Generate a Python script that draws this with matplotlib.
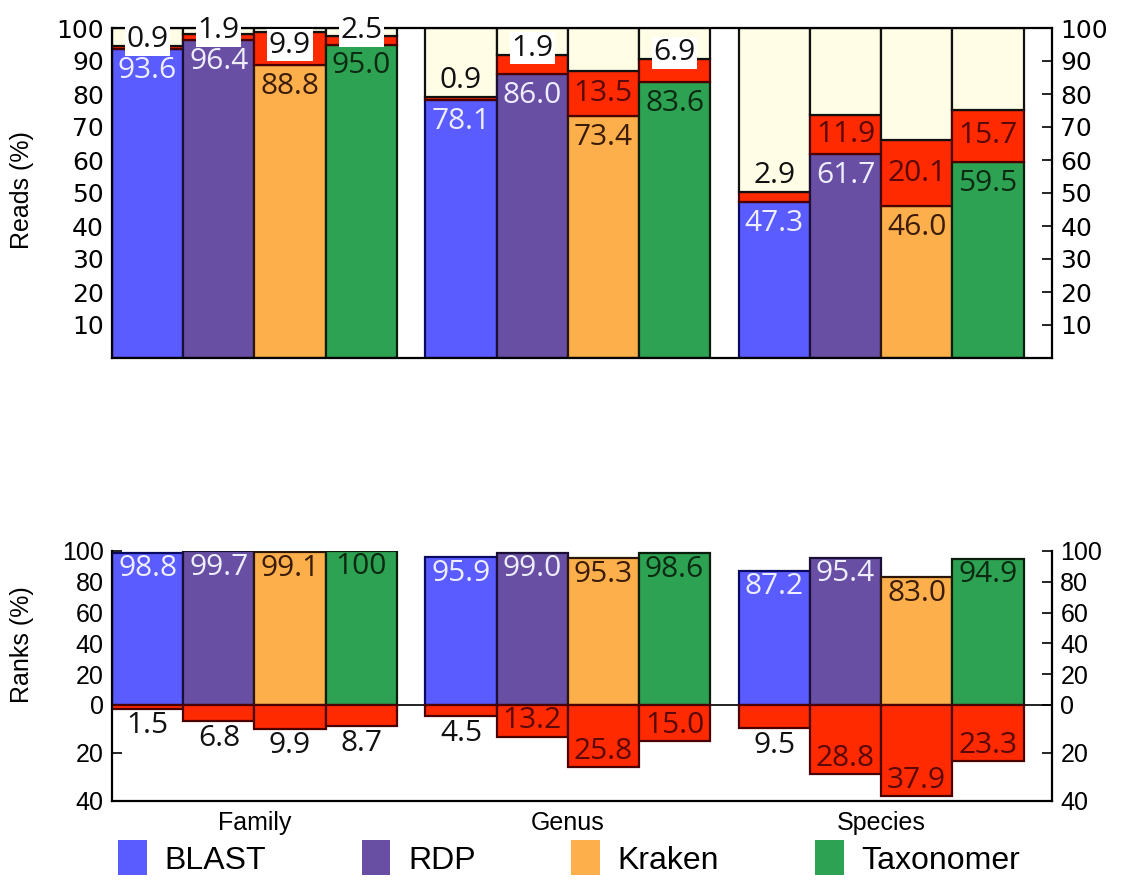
import numpy as np
import matplotlib
matplotlib.use("Agg")
import matplotlib.pyplot as plt
from matplotlib.patches import Patch

# ---------------- data ----------------
ranks = ["Family", "Genus", "Species"]
methods = ["BLAST", "RDP", "Kraken", "Taxonomer"]

# Reads (%) panel
reads_correct = [[93.6, 96.4, 88.8, 95.0],
                 [78.1, 86.0, 73.4, 83.6],
                 [47.3, 61.7, 46.0, 59.5]]
reads_incorrect = [[0.9, 1.9, 9.9, 2.5],
                   [0.9, 5.8, 13.5, 6.9],
                   [2.9, 11.9, 20.1, 15.7]]
reads_incorrect_text = [["0.9", "1.9", "9.9", "2.5"],
                        ["0.9", "1.9", "13.5", "6.9"],
                        ["2.9", "11.9", "20.1", "15.7"]]

# Ranks (%) panel
ranks_correct = [[98.8, 99.7, 99.1, 100],
                 [95.9, 99.0, 95.3, 98.6],
                 [87.2, 95.4, 83.0, 94.9]]
ranks_incorrect = [[1.5, 6.8, 9.9, 8.7],
                   [4.5, 13.2, 25.8, 15.0],
                   [9.5, 28.8, 37.9, 23.3]]

reads_ticks = [10, 20, 30, 40, 50, 60, 70, 80, 90, 100]
ranks_ticks = [-40, -20, 0, 20, 40, 60, 80, 100]

# ---------------- style ----------------
fill = ["#5B5CFF", "#684FA3", "#FDAF4C", "#2DA252"]
edge = ["#0A0A60", "#1C0F36", "#2A1606", "#0A1E0E"]
txt = ["#EEEEFF", "#EEEEFF", "#3A1C08", "#0C2A12"]
red, red_edge, red_txt = "#FF2A00", "#4A0000", "#5A0808"
cream = "#FFFDE6"

W, H = 1121, 890
fig = plt.figure(figsize=(W / 100, H / 100), dpi=100)
ax1 = fig.add_axes([112 / W, 1 - 358 / H, 940 / W, 330 / H])
ax2 = fig.add_axes([112 / W, 1 - 801 / H, 940 / W, 250 / H])

gap = 0.4
nm = len(methods)
xlim = (0, len(ranks) * (nm + gap))
lw = 1.6
lab_font = ["Open Sans", "DejaVu Sans"]
lab_size = 21.5

def xpos(g, m):
    return g * (nm + gap) + m

# ---------------- top panel ----------------
for g in range(len(ranks)):
    for m in range(nm):
        x = xpos(g, m)
        c = reads_correct[g][m]
        i = reads_incorrect[g][m]
        ax1.bar(x, c, width=1, align="edge", color=fill[m], edgecolor=edge[m], lw=lw, zorder=2)
        ax1.bar(x, i, bottom=c, width=1, align="edge", color=red, edgecolor=red_edge, lw=lw, zorder=2)
        ax1.bar(x, 100 - c - i, bottom=c + i, width=1, align="edge", color=cream,
                edgecolor="#111111", lw=lw, zorder=2)
        ax1.annotate(f"{c:.1f}", (x + 0.5, c), xytext=(0, -5), textcoords="offset points",
                     ha="center", va="top", color=txt[m], fontsize=lab_size, family=lab_font, zorder=5)
        s = reads_incorrect_text[g][m]
        top = c + i
        if i >= 11:
            ax1.annotate(s, (x + 0.5, c + i / 2), ha="center", va="center", color=red_txt,
                         fontsize=lab_size, family=lab_font, zorder=5)
        elif i >= 9:
            ax1.annotate(s, (x + 0.5, c + i / 2 + 1), ha="center", va="center", color="#111111",
                         fontsize=lab_size, family=lab_font, zorder=5,
                         bbox=dict(boxstyle="square,pad=0.05", fc="white", ec="none"))
        elif top > 85:
            ax1.annotate(s, (x + 0.5, min(top + 2, 99.2)), ha="center", va="center", color="#111111",
                         fontsize=lab_size, family=lab_font, zorder=5, annotation_clip=False,
                         bbox=dict(boxstyle="square,pad=0.05", fc="white", ec="none"))
        else:
            ax1.annotate(s, (x + 0.5, top), xytext=(0, 2), textcoords="offset points",
                         ha="center", va="bottom", color="#111111",
                         fontsize=lab_size, family=lab_font, zorder=5)

ax1.set_xlim(*xlim)
ax1.set_ylim(0, 100)
ax1.set_yticks(reads_ticks)
ax1.set_xticks([])
ax1.tick_params(axis="y", direction="in", left=True, right=True, labelleft=True, labelright=True,
                labelsize=18, length=7, width=1.2, pad=6)
for sp in ax1.spines.values():
    sp.set_linewidth(1.6)
    sp.set_zorder(3)

# ---------------- bottom panel ----------------
k = 1.56

def fwd(y):
    y = np.asarray(y, dtype=float)
    return np.where(y < 0, y * k, y)

def inv(y):
    y = np.asarray(y, dtype=float)
    return np.where(y < 0, y / k, y)

ax2.set_yscale("function", functions=(fwd, inv))
ax2.axhline(0, color="#222222", lw=1.4, zorder=1)
for g in range(len(ranks)):
    for m in range(nm):
        x = xpos(g, m)
        c = ranks_correct[g][m]
        i = ranks_incorrect[g][m]
        ax2.bar(x, c, width=1, align="edge", color=fill[m], edgecolor=edge[m], lw=lw, zorder=2)
        ax2.bar(x, -i, width=1, align="edge", color=red, edgecolor=red_edge, lw=lw, zorder=2)
        ctext = f"{c:g}" if c == 100 else f"{c:.1f}"
        ax2.annotate(ctext, (x + 0.5, c), xytext=(0, -1), textcoords="offset points",
                     ha="center", va="top", color=txt[m], fontsize=lab_size, family=lab_font, zorder=5)
        if i >= 12:
            ax2.annotate(f"{i:.1f}", (x + 0.5, -i), xytext=(0, 1), textcoords="offset points",
                         ha="center", va="bottom", color=red_txt, fontsize=lab_size,
                         family=lab_font, zorder=5)
        else:
            ax2.annotate(f"{i:.1f}", (x + 0.5, -i), xytext=(0, -2), textcoords="offset points",
                         ha="center", va="top", color="#111111", fontsize=lab_size,
                         family=lab_font, zorder=5)

ax2.set_xlim(*xlim)
ax2.set_ylim(-40, 100)
ax2.set_yticks(ranks_ticks)
ax2.set_yticklabels([f"{abs(t)}" for t in ranks_ticks])
ax2.yaxis.set_minor_locator(matplotlib.ticker.NullLocator())
ax2.set_xticks([g * (nm + gap) + nm / 2 for g in range(len(ranks))])
ax2.set_xticklabels(ranks, fontsize=18, family="Liberation Sans")
ax2.tick_params(axis="x", length=0, pad=7)
ax2.tick_params(axis="y", direction="in", left=True, right=True, labelleft=True, labelright=True,
                labelsize=18, length=7, width=1.2, pad=6)
for t in ax2.yaxis.get_major_ticks():
    t.label1.set_family("Liberation Sans")
    t.label2.set_family("Liberation Sans")
ax2.spines["top"].set_visible(False)
for sp in ax2.spines.values():
    sp.set_linewidth(1.6)

# ---------------- labels & legend ----------------
fig.text(22 / W, 1 - 190 / H, "Reads (%)", rotation=90, ha="center", va="center",
         fontsize=18, family="Liberation Sans")
fig.text(22 / W, 1 - 645 / H, "Ranks (%)", rotation=90, ha="center", va="center",
         fontsize=18, family="Liberation Sans")

handles = [Patch(facecolor=fill[m], edgecolor="none") for m in range(nm)]
fig.legend(handles, methods, loc="center", bbox_to_anchor=(569 / W, 1 - 858 / H), ncol=4,
           frameon=False, prop={"family": "Liberation Sans", "size": 23},
           handlelength=0.9, handleheight=1.3, handletextpad=0.55, columnspacing=3.0)

fig.savefig("out.png", dpi=100)
